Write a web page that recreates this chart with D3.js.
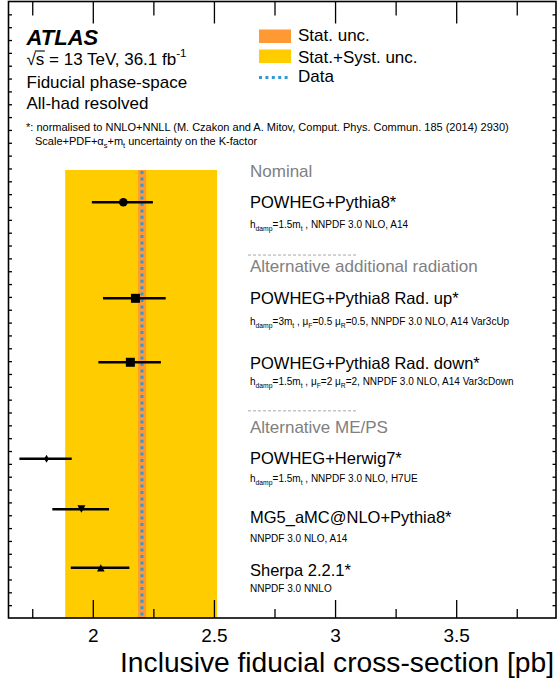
<!DOCTYPE html>
<html><head><meta charset="utf-8">
<script src="https://cdn.jsdelivr.net/npm/d3@7"></script>
<style>
body{margin:0;background:#fff}
svg{display:block}
text{font-family:"Liberation Sans",Arial,Helvetica,sans-serif}
</style></head>
<body><svg id="c" width="559" height="684"></svg>
<script>
// ---------- data ----------
const models = ["POWHEG+Pythia8*", "POWHEG+Pythia8 Rad. up*", "POWHEG+Pythia8 Rad. down*",
  "POWHEG+Herwig7*", "MG5_aMC@NLO+Pythia8*", "Sherpa 2.2.1*"];
const descriptions = [
  "h_{damp}=1.5m_{t} , NNPDF 3.0 NLO, A14",
  "h_{damp}=3m_{t} , \u03bc_{F}=0.5 \u03bc_{R}=0.5, NNPDF 3.0 NLO, A14 Var3cUp",
  "h_{damp}=1.5m_{t} , \u03bc_{F}=2 \u03bc_{R}=2, NNPDF 3.0 NLO, A14 Var3cDown",
  "h_{damp}=1.5m_{t} , NNPDF 3.0 NLO, H7UE",
  "NNPDF 3.0 NLO, A14",
  "NNPDF 3.0 NNLO"];
const xsec    = [2.126, 2.176, 2.155, 1.809, 1.953, 2.033];
const errLow  = [1.996, 2.042, 2.023, 1.697, 1.833, 1.909];
const errHigh = [2.248, 2.301, 2.281, 1.913, 2.067, 2.151];
const markers = ["circle", "square", "square", "diamond", "triangleDown", "triangleUp"];
const rowPos   = [32.37, 24.89, 19.91, 12.40, 8.46, 3.92];   // y-axis units
const labelPos = [31.95, 24.45, 19.41, 11.97, 7.37, 3.29];
const descPos  = [30.39, 22.81, 18.14, 10.57, 5.94, 2.05];
const sections = ["Nominal", "Alternative additional radiation", "Alternative ME/PS"];
const sectionPos = [34.33, 26.94, 14.40];
const separatorPos = [null, 28.26, 16.13];
const dataValue = 2.203;
const statBand = [2.187, 2.220];
const totalBand = [1.886, 2.513];
const bandTop = 34.88;
const xMajorTicks = [2, 2.5, 3, 3.5];
const xMinorTicks = [1.75, 2.25, 2.75, 3.25, 3.75];
const legendLabels = ["Stat. unc.", "Stat.+Syst. unc.", "Data"];
const xTitle = "Inclusive fiducial cross-section [pb]";

// ---------- setup ----------
const svg = d3.select("#c");
const L = 8.5, R = 556, T = 1.5, B = 618;
const x = d3.scaleLinear().domain([1.652, 3.912]).range([L, R]);
const y = d3.scaleLinear().domain([0, 48]).range([B, T]);
const ORANGE = "#ff9933", YELLOW = "#ffcc00", BLUE = "#3399d6";
const FONT = '"Liberation Sans",Arial,Helvetica,sans-serif';

function rich(sel, str, size) {
  const parts = str.split(/(_\{[^}]*\}|\^\{[^}]*\})/).filter(s => s.length);
  let pending = 0;
  parts.forEach(p => {
    if (p.startsWith("_{") || p.startsWith("^{")) {
      const sub = p[0] === "_";
      const sh = sub ? size * 0.3 : -size * 0.45;
      sel.append("tspan").attr("font-size", size * 0.68).attr("dy", pending + sh).text(p.slice(2, -1));
      pending = -sh;
    } else {
      sel.append("tspan").attr("dy", pending).text(p);
      pending = 0;
    }
  });
}

// ---------- bands ----------
svg.append("rect").attr("x", x(totalBand[0])).attr("y", y(bandTop))
  .attr("width", x(totalBand[1]) - x(totalBand[0])).attr("height", B - y(bandTop)).attr("fill", YELLOW);
svg.append("rect").attr("x", x(statBand[0])).attr("y", y(bandTop))
  .attr("width", x(statBand[1]) - x(statBand[0])).attr("height", B - y(bandTop)).attr("fill", ORANGE);
svg.append("line").attr("x1", x(dataValue)).attr("x2", x(dataValue))
  .attr("y1", y(bandTop) + 1).attr("y2", B).attr("stroke", BLUE).attr("stroke-width", 3)
  .attr("stroke-dasharray", "3,3.4");

// ---------- axes ----------
function noLabel(a) { return a.tickFormat(""); }
const gB = svg.append("g").attr("transform", `translate(0,${B})`)
  .call(d3.axisBottom(x).tickValues(xMajorTicks).tickSizeInner(-18).tickSizeOuter(0).tickPadding(11).tickFormat(d3.format("")));
gB.selectAll("text").attr("font-size", 19).attr("font-family", FONT).attr("fill", "#000");
svg.append("g").attr("transform", `translate(0,${B})`)
  .call(noLabel(d3.axisBottom(x).tickValues(xMinorTicks).tickSizeInner(-9).tickSizeOuter(0)));
svg.append("g").attr("transform", `translate(0,${T})`)
  .call(noLabel(d3.axisTop(x).tickValues(xMajorTicks).tickSizeInner(-22).tickSizeOuter(0)));
svg.append("g").attr("transform", `translate(0,${T})`)
  .call(noLabel(d3.axisTop(x).tickValues(xMinorTicks).tickSizeInner(-14).tickSizeOuter(0)));
const yTicks = d3.range(1, 48);
svg.append("g").attr("transform", `translate(${L},0)`)
  .call(noLabel(d3.axisLeft(y).tickValues(yTicks).tickSizeInner(-3.5).tickSizeOuter(0)));
svg.append("g").attr("transform", `translate(${R},0)`)
  .call(noLabel(d3.axisRight(y).tickValues(yTicks).tickSizeInner(-3.5).tickSizeOuter(0)));
svg.selectAll(".domain").remove();
svg.selectAll(".tick line").attr("stroke", "#000").attr("stroke-width", 1.3);
svg.append("rect").attr("x", L).attr("y", T).attr("width", R - L).attr("height", B - T)
  .attr("fill", "none").attr("stroke", "#000").attr("stroke-width", 1.6);

svg.append("text").attr("x", 554).attr("y", 672).attr("text-anchor", "end")
  .attr("font-size", 28.2).text(xTitle);

// ---------- points ----------
function markerPath(t) {
  switch (t) {
    case "circle": return d3.symbol(d3.symbolCircle, Math.PI * 4.3 * 4.3)();
    case "square": return "M-4.5,-4.5H4.5V4.5H-4.5Z";
    case "diamond": return "M0,-4L2.3,0L0,4L-2.3,0Z";
    case "triangleDown": return "M-4,-4L4,-4L0,3.5Z";
    case "triangleUp": return "M-3.8,3.8L3.8,3.8L0,-3.5Z";
  }
}
const pts = svg.append("g");
models.forEach((m, i) => {
  const cy = y(rowPos[i]);
  pts.append("line").attr("x1", x(errLow[i])).attr("x2", x(errHigh[i]))
    .attr("y1", cy).attr("y2", cy).attr("stroke", "#000").attr("stroke-width", 2.5);
  pts.append("path").attr("d", markerPath(markers[i]))
    .attr("transform", `translate(${x(xsec[i])},${cy})`).attr("fill", "#000");
});

// ---------- right-hand labels ----------
const LX = 250;
sections.forEach((s, i) => {
  svg.append("text").attr("x", LX).attr("y", y(sectionPos[i])).attr("font-size", 17)
    .attr("fill", "#808080").text(s);
  if (separatorPos[i] !== null) {
    svg.append("line").attr("x1", LX - 2).attr("x2", 356)
      .attr("y1", y(separatorPos[i])).attr("y2", y(separatorPos[i]))
      .attr("stroke", "#a8a8a8").attr("stroke-width", 1).attr("stroke-dasharray", "3,2");
  }
});
models.forEach((m, i) => {
  svg.append("text").attr("x", LX).attr("y", y(labelPos[i])).attr("font-size", 16.5).text(m);
  const t = svg.append("text").attr("x", LX).attr("y", y(descPos[i])).attr("font-size", 10);
  rich(t, descriptions[i], 10);
});

// ---------- top-left text ----------
svg.append("text").attr("x", 26.5).attr("y", 45).attr("font-size", 22)
  .attr("font-weight", "bold").attr("font-style", "italic").text("ATLAS");
const t2 = svg.append("text").attr("x", 26.5).attr("y", 64.5).attr("font-size", 17);
rich(t2, "\u221As = 13 TeV, 36.1 fb^{-1}", 17);
// overline of the square root over "s"
{
  const node = t2.node();
  const r0 = node.getExtentOfChar(0), r1 = node.getExtentOfChar(1);
  svg.append("line").attr("x1", r0.x + r0.width - 1).attr("x2", r1.x + r1.width + 0.5)
    .attr("y1", r0.y + 1.5).attr("y2", r0.y + 1.5).attr("stroke", "#000").attr("stroke-width", 1.1);
}
svg.append("text").attr("x", 26.5).attr("y", 88).attr("font-size", 17).text("Fiducial phase-space");
svg.append("text").attr("x", 26.5).attr("y", 108.5).attr("font-size", 17).text("All-had resolved");
svg.append("text").attr("x", 26).attr("y", 131).attr("font-size", 11)
  .text("*: normalised to NNLO+NNLL (M. Czakon and A. Mitov, Comput. Phys. Commun. 185 (2014) 2930)");
const t3 = svg.append("text").attr("x", 35).attr("y", 145).attr("font-size", 11);
rich(t3, "Scale+PDF+\u03b1_{s}+m_{t} uncertainty on the K-factor", 11);

// ---------- legend ----------
const lg = svg.append("g");
lg.append("rect").attr("x", 259).attr("y", 29.5).attr("width", 32).attr("height", 13.5).attr("fill", ORANGE);
lg.append("rect").attr("x", 259).attr("y", 49.5).attr("width", 32).attr("height", 13.5).attr("fill", YELLOW);
lg.append("line").attr("x1", 259).attr("x2", 291).attr("y1", 77.5).attr("y2", 77.5)
  .attr("stroke", BLUE).attr("stroke-width", 3).attr("stroke-dasharray", "3,3.4");
[40.7, 62.5, 82].forEach((yy, i) => {
  lg.append("text").attr("x", 298).attr("y", yy).attr("font-size", 17).text(legendLabels[i]);
});
</script></body></html>
